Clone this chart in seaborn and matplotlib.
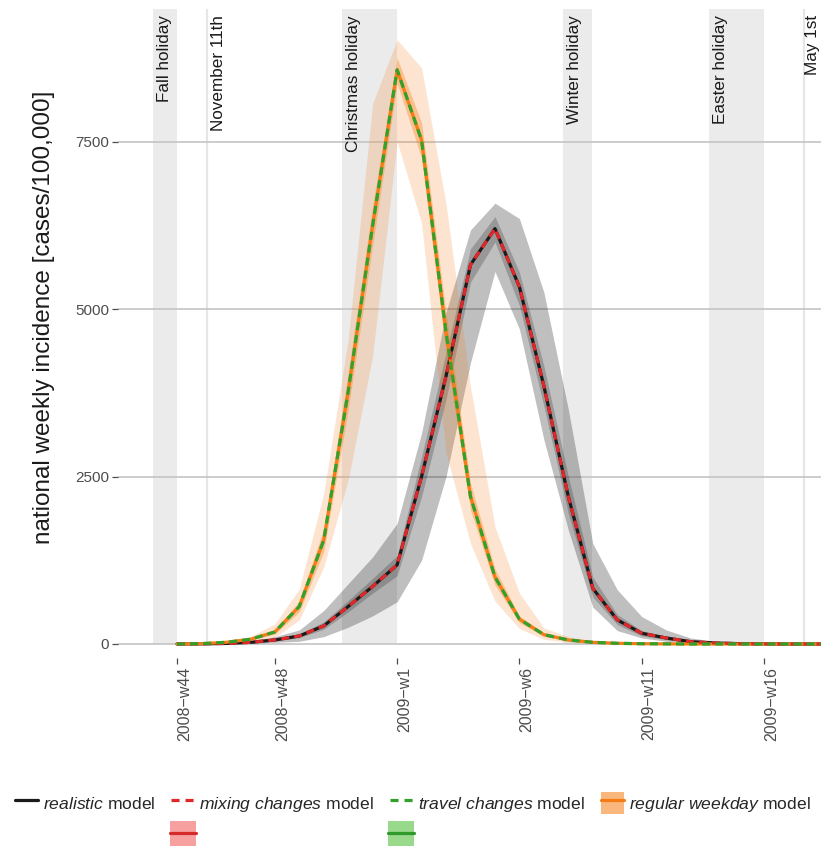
import numpy as np
import pandas as pd
import matplotlib
matplotlib.use("Agg")
import matplotlib.pyplot as plt
import seaborn as sns
from matplotlib.patches import Patch, Rectangle
from matplotlib.lines import Line2D
from matplotlib.legend_handler import HandlerTuple

# ---------------- data ----------------
weeks = ["2008-w44", "2008-w45", "2008-w46", "2008-w47", "2008-w48", "2008-w49",
         "2008-w50", "2008-w51", "2008-w52", "2009-w1", "2009-w2", "2009-w3",
         "2009-w4", "2009-w5", "2009-w6", "2009-w7", "2009-w8", "2009-w9",
         "2009-w10", "2009-w11", "2009-w12", "2009-w13", "2009-w14", "2009-w15",
         "2009-w16", "2009-w17", "2009-w18", "2009-w19"]
tick_weeks = ["2008-w44", "2008-w48", "2009-w1", "2009-w6", "2009-w11", "2009-w16"]
tick_labels = ["2008\u2212w44", "2008\u2212w48", "2009\u2212w1", "2009\u2212w6",
               "2009\u2212w11", "2009\u2212w16"]

realistic = [0, 2, 8, 25, 60, 120, 270, 560, 860, 1180, 2500, 4000, 5660, 6200,
             5330, 3850, 2200, 830, 360, 160, 90, 35, 15, 5, 2, 0, 0, 0]
realistic_lo95 = [0, 0, 2, 10, 25, 40, 110, 250, 420, 630, 1250, 2500, 4200, 5560,
                  4700, 3050, 1700, 550, 200, 90, 40, 15, 5, 2, 0, 0, 0, 0]
realistic_hi95 = [0, 5, 15, 45, 110, 210, 500, 900, 1300, 1800, 3150, 4950, 6180, 6580,
                  6350, 5250, 3500, 1500, 810, 410, 210, 90, 40, 15, 5, 2, 0, 0]
realistic_lo50 = [0, 0, 5, 18, 45, 95, 220, 480, 760, 1020, 2200, 3650, 5400, 6000,
                  5050, 3550, 1950, 700, 290, 120, 65, 25, 10, 3, 0, 0, 0, 0]
realistic_hi50 = [0, 3, 12, 35, 80, 150, 330, 650, 980, 1320, 2800, 4350, 5900, 6380,
                  5550, 4150, 2500, 1000, 440, 200, 115, 48, 22, 8, 3, 1, 0, 0]
mixing = [0, 2, 8, 25, 60, 120, 270, 560, 860, 1180, 2500, 4000, 5660, 6200,
          5330, 3850, 2200, 830, 360, 160, 90, 35, 15, 5, 2, 0, 0, 0]

regular = [0, 5, 25, 70, 180, 560, 1550, 3770, 6250, 8570, 7520, 4650, 2200, 1000,
           370, 140, 60, 25, 10, 4, 2, 0, 0, 0, 0, 0, 0, 0]
regular_lo95 = [0, 0, 5, 25, 100, 360, 1150, 2450, 4300, 7500, 6280, 2850, 1500, 640,
                230, 70, 25, 10, 3, 0, 0, 0, 0, 0, 0, 0, 0, 0]
regular_hi95 = [0, 8, 40, 110, 300, 820, 2250, 4550, 8070, 9020, 8600, 6570, 3840, 1750,
                760, 240, 110, 45, 20, 8, 3, 0, 0, 0, 0, 0, 0, 0]
regular_lo50 = [0, 3, 18, 55, 150, 480, 1380, 3500, 5950, 8370, 7250, 4350, 2000, 880,
                320, 115, 45, 18, 6, 2, 0, 0, 0, 0, 0, 0, 0, 0]
regular_hi50 = [0, 8, 32, 85, 210, 640, 1720, 4050, 6550, 8750, 7780, 4950, 2400, 1120,
                420, 165, 75, 32, 14, 6, 3, 0, 0, 0, 0, 0, 0, 0]
travel = [0, 5, 25, 70, 180, 560, 1550, 3770, 6250, 8570, 7520, 4650, 2200, 1000,
          370, 140, 60, 25, 10, 4, 2, 0, 0, 0, 0, 0, 0, 0]

# holiday periods, in week-index units (0 = 2008-w44)
holiday_names = ["Fall holiday", "Christmas holiday", "Winter holiday", "Easter holiday"]
holiday_start = [-1.0, 6.73, 15.78, 21.76]
holiday_end = [0.0, 8.98, 16.98, 24.0]
day_names = ["November 11th", "May 1st"]
day_pos = [1.22, 25.63]

yticks = [0, 2500, 5000, 7500]

# ---------------- style ----------------
sns.set_theme(style="white")
plt.rcParams["font.family"] = ["Liberation Sans", "DejaVu Sans"]
plt.rcParams["mathtext.fontset"] = "custom"
plt.rcParams["mathtext.it"] = "Liberation Sans:italic"
plt.rcParams["mathtext.rm"] = "Liberation Sans"
plt.rcParams["lines.scale_dashes"] = False

C_BLACK = "#1a1a1a"
C_RED = "#e0282a"
C_GREEN = "#34a02c"
C_ORANGE = "#f57c14"

x = np.arange(len(weeks))
df = pd.DataFrame({"week": x, "realistic": realistic, "mixing": mixing,
                   "regular": regular, "travel": travel})

W, H = 821, 846
fig = plt.figure(figsize=(W / 100, H / 100), dpi=100)
ax = fig.add_axes([118 / W, (H - 658) / H, (W - 118) / W, 649 / H])

YTOP = 9478
ax.set_xlim(-2.412, 26.33)
ax.set_ylim(-209, YTOP)

# holidays
for s, e in zip(holiday_start, holiday_end):
    ax.fill_between([s, e], 0, YTOP, color="#ebebeb", lw=0, zorder=0.1)
for d in day_pos:
    ax.vlines(d, 0, YTOP, color="#e6e6e6", lw=1.6, zorder=0.1)

# grid
ax.set_axisbelow(True)
ax.yaxis.grid(True, color="#c4c4c4", lw=1.2)
ax.xaxis.grid(False)

# uncertainty bands
ax.fill_between(x, realistic_lo95, realistic_hi95, color="black", alpha=0.25, lw=0, zorder=1)
ax.fill_between(x, realistic_lo50, realistic_hi50, color="black", alpha=0.2, lw=0, zorder=1.1)
ax.fill_between(x, regular_lo95, regular_hi95, color=C_ORANGE, alpha=0.2, lw=0, zorder=1.2)
ax.fill_between(x, regular_lo50, regular_hi50, color=C_ORANGE, alpha=0.35, lw=0, zorder=1.3)

# lines
sns.lineplot(data=df, x="week", y="realistic", color=C_BLACK, lw=2.3, ax=ax, zorder=2)
sns.lineplot(data=df, x="week", y="regular", color=C_ORANGE, lw=2.3, ax=ax, zorder=2.1)
sns.lineplot(data=df, x="week", y="mixing", color=C_RED, lw=2.3, ax=ax, zorder=2.2,
             linestyle=(0, (5.8, 3.6)))
sns.lineplot(data=df, x="week", y="travel", color=C_GREEN, lw=2.3, ax=ax, zorder=2.3,
             linestyle=(0, (5.8, 3.6)))

# holiday labels
label_offsets = [0.47, 0.47, 0.47, 0.47]
for name, s, off in zip(holiday_names, holiday_start, label_offsets):
    ax.text(s + off, 9390, name, rotation=90, rotation_mode="anchor", ha="right",
            va="center", fontsize=12.3, color=C_BLACK, zorder=3, clip_on=False)
day_offsets = [0.47, 0.36]
for name, d, off in zip(day_names, day_pos, day_offsets):
    ax.text(d + off, 9390, name, rotation=90, rotation_mode="anchor", ha="right",
            va="center", fontsize=12.3, color=C_BLACK, zorder=3, clip_on=False)

# axes
for sp in ax.spines.values():
    sp.set_visible(False)
ax.set_xticks([weeks.index(w) for w in tick_weeks])
ax.set_xticklabels(tick_labels)
ax.set_yticks(yticks)
ax.set_yticklabels([str(v) for v in yticks])
ax.tick_params(axis="both", which="major", length=4, width=0.9, color="#4d4d4d",
               labelcolor="#4d4d4d", pad=2.5, bottom=True, left=True)
ax.tick_params(axis="y", labelsize=11)
ax.tick_params(axis="x", labelsize=11.5)
for lbl in ax.get_xticklabels():
    lbl.set_rotation(90)
    lbl.set_rotation_mode("anchor")
    lbl.set_ha("right")
    lbl.set_va("top")
ax.set_xlabel("")
ax.set_ylabel("national weekly incidence [cases/100,000]", fontsize=17.5, color=C_BLACK)
ax.yaxis.set_label_coords((55 - 118) / (W - 118), 0.525)

# legend
dash_leg = (0, (5.8, 4.3))
handles = [
    Line2D([], [], color=C_BLACK, lw=2.3),
    Line2D([], [], color=C_RED, lw=2.3, linestyle=dash_leg),
    Line2D([], [], color=C_GREEN, lw=2.3, linestyle=dash_leg),
    (Patch(facecolor=C_ORANGE, alpha=0.55, edgecolor="none"),
     Line2D([], [], color=C_ORANGE, lw=2.3)),
]
labels = [r"$\it{realistic}$ model", r"$\it{mixing\ changes}$ model",
          r"$\it{travel\ changes}$ model", r"$\it{regular\ weekday}$ model"]
leg = fig.legend(handles, labels, loc="center left",
                 bbox_to_anchor=(15 / W, 1 - 803 / H), ncol=4, frameon=False,
                 fontsize=12.6, handlelength=1.3, handletextpad=0.3,
                 columnspacing=0.9, handleheight=1.6, borderpad=0, borderaxespad=0,
                 handler_map={tuple: HandlerTuple(ndivide=1, pad=0)})

fig.canvas.draw()
renderer = fig.canvas.get_renderer()
for i, (fc, lc) in zip([1, 2], [("#f7a0a0", "#d42a2a"), ("#98d98c", "#2f9a2a")]):
    bb = leg.legend_handles[i].get_window_extent(renderer)
    cx = (bb.x0 + bb.x1) / 2
    bw, bh = 26, 25
    rect = Rectangle(((cx - bw / 2) / W, 0), bw / W, bh / H, transform=fig.transFigure,
                     facecolor=fc, edgecolor="none")
    fig.add_artist(rect)
    ln = Line2D([(cx - bw / 2) / W, (cx + bw / 2) / W], [13 / H, 13 / H],
                transform=fig.transFigure, color=lc, lw=2.3)
    fig.add_artist(ln)

fig.savefig("out.png", dpi=100)
